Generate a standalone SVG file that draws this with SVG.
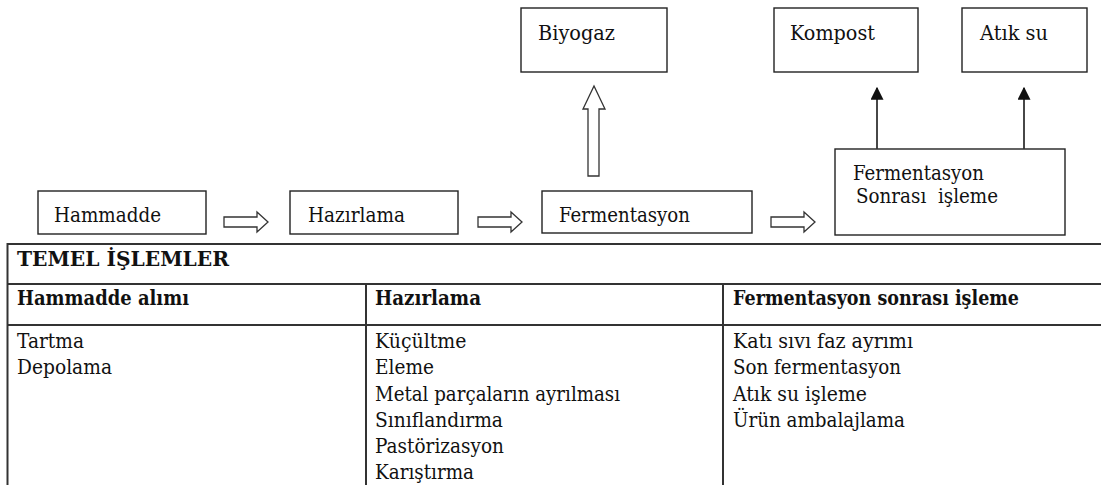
<svg xmlns="http://www.w3.org/2000/svg" width="1101" height="485" viewBox="0 0 1101 485">
<style>
.box{fill:#fff;stroke:#222;stroke-width:1.4}
text{font-family:'DejaVu Serif','Liberation Serif',serif;font-size:20.5px;fill:#111}
.b{font-weight:bold}
.hollow{fill:#fff;stroke:#333;stroke-width:1.3}
.tl{stroke:#333;stroke-width:2;fill:none}
.ln{stroke:#333;stroke-width:1.8;fill:none}
</style>
<defs>
<marker id="ah" viewBox="0 0 10 10" refX="9" refY="5" markerWidth="13" markerHeight="13" markerUnits="userSpaceOnUse" orient="auto">
<path d="M0,0 L10,5 L0,10 Z" fill="#111"/>
</marker>
<path id="rarrow" d="M0,-5 H33 V-10 L44,0 L33,10 V5 H0 Z"/>
</defs>
<rect width="1101" height="485" fill="#fff"/>

<g id="biyogaz"><rect class="box" x="521" y="8" width="146" height="64"/><text x="538" y="40" textLength="77" lengthAdjust="spacingAndGlyphs">Biyogaz</text></g>
<g id="kompost"><rect class="box" x="774" y="8" width="144" height="64"/><text x="790" y="40" textLength="85" lengthAdjust="spacingAndGlyphs">Kompost</text></g>
<g id="atiksu"><rect class="box" x="962" y="8" width="125" height="64"/><text x="980" y="40" textLength="68" lengthAdjust="spacingAndGlyphs">Atık su</text></g>
<g id="hammadde"><rect class="box" x="38" y="191" width="168" height="43"/><text x="54" y="222" textLength="107" lengthAdjust="spacingAndGlyphs">Hammadde</text></g>
<g id="hazirlama"><rect class="box" x="290" y="191" width="168" height="43"/><text x="308" y="222" textLength="97" lengthAdjust="spacingAndGlyphs">Hazırlama</text></g>
<g id="fermentasyon"><rect class="box" x="542" y="191" width="210" height="42"/><text x="559" y="222" textLength="131" lengthAdjust="spacingAndGlyphs">Fermentasyon</text></g>
<g id="sonrasi"><rect class="box" x="835" y="149" width="230" height="86"/><text x="853" y="180" textLength="131" lengthAdjust="spacingAndGlyphs">Fermentasyon</text><text x="856" y="203" style="white-space:pre" textLength="142" lengthAdjust="spacingAndGlyphs">Sonrası  işleme</text></g>

<g id="connectors">
<use href="#rarrow" class="hollow" transform="translate(224,222)"/>
<use href="#rarrow" class="hollow" transform="translate(478,222)"/>
<use href="#rarrow" class="hollow" transform="translate(771,222)"/>
<path class="hollow" d="M588,176 V109 H583 L594,86 L605,109 H599 V176 Z"/>
<line class="ln" x1="877" y1="149" x2="877" y2="88" marker-end="url(#ah)"/>
<line class="ln" x1="1024" y1="149" x2="1024" y2="88" marker-end="url(#ah)"/>
</g>

<g id="table">
<line class="tl" x1="7" y1="244" x2="1101" y2="244"/>
<line class="tl" x1="7" y1="284" x2="1101" y2="284"/>
<line class="tl" x1="7" y1="325" x2="1101" y2="325"/>
<line class="tl" x1="7.5" y1="243" x2="7.5" y2="485"/>
<line class="tl" x1="366" y1="284" x2="366" y2="485"/>
<line class="tl" x1="723" y1="284" x2="723" y2="485"/>
<text class="b" x="17" y="266" textLength="212" lengthAdjust="spacingAndGlyphs">TEMEL İŞLEMLER</text>
<text class="b" x="17" y="305" textLength="172" lengthAdjust="spacingAndGlyphs">Hammadde alımı</text>
<text class="b" x="375" y="305" textLength="106" lengthAdjust="spacingAndGlyphs">Hazırlama</text>
<text class="b" x="733" y="305" textLength="286" lengthAdjust="spacingAndGlyphs">Fermentasyon sonrası işleme</text>
<text x="17" y="348" textLength="67" lengthAdjust="spacingAndGlyphs">Tartma</text>
<text x="17" y="374" textLength="95" lengthAdjust="spacingAndGlyphs">Depolama</text>
<text x="375" y="348" textLength="91.5" lengthAdjust="spacingAndGlyphs">Küçültme</text>
<text x="375" y="374" textLength="59" lengthAdjust="spacingAndGlyphs">Eleme</text>
<text x="375" y="400.5" textLength="245" lengthAdjust="spacingAndGlyphs">Metal parçaların ayrılması</text>
<text x="375" y="426.7" textLength="128" lengthAdjust="spacingAndGlyphs">Sınıflandırma</text>
<text x="375" y="453" textLength="129" lengthAdjust="spacingAndGlyphs">Pastörizasyon</text>
<text x="375" y="479" textLength="99" lengthAdjust="spacingAndGlyphs">Karıştırma</text>
<text x="733" y="348" textLength="180" lengthAdjust="spacingAndGlyphs">Katı sıvı faz ayrımı</text>
<text x="733" y="374" textLength="168" lengthAdjust="spacingAndGlyphs">Son fermentasyon</text>
<text x="733" y="400.5" textLength="134" lengthAdjust="spacingAndGlyphs">Atık su işleme</text>
<text x="733" y="426.7" textLength="172" lengthAdjust="spacingAndGlyphs">Ürün ambalajlama</text>
</g>
</svg>
